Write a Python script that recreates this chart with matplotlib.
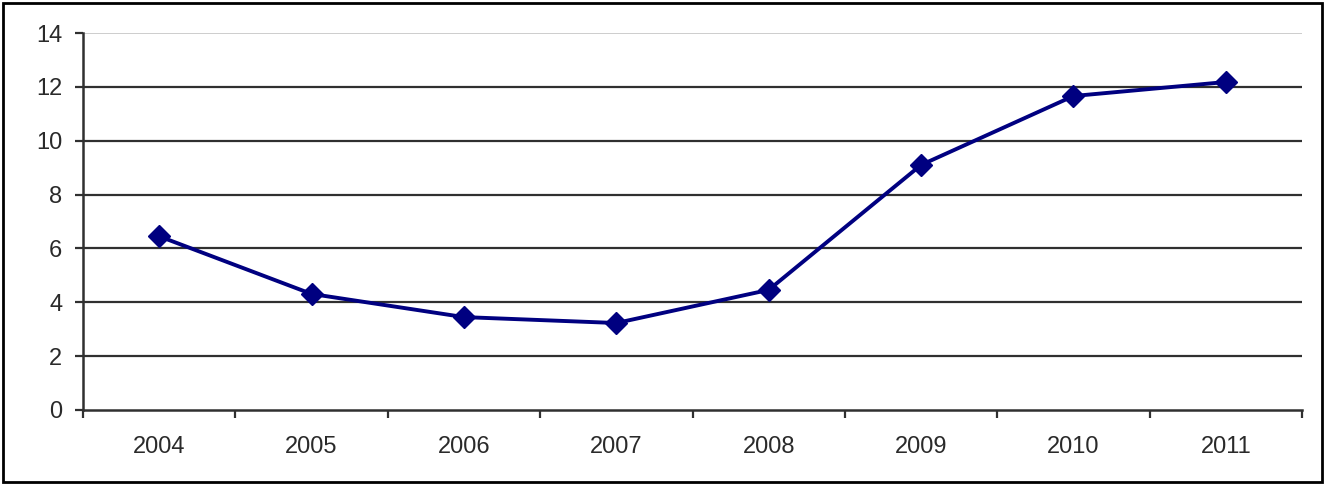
import matplotlib
matplotlib.use("Agg")
import matplotlib.pyplot as plt
from matplotlib.patches import Rectangle
import numpy as np

years = ["2004", "2005", "2006", "2007", "2008", "2009", "2010", "2011"]
values = [6.45, 4.31, 3.45, 3.23, 4.46, 9.1, 11.66, 12.18]
yticks = [0, 2, 4, 6, 8, 10, 12, 14]

plt.rcParams['font.family'] = ['Liberation Sans', 'DejaVu Sans']

fig = plt.figure(figsize=(13.29, 4.84), dpi=100)
fig.patch.set_facecolor("white")
fig.patches.append(Rectangle((3/1329, 2/484), 1319/1329, 479/484, transform=fig.transFigure,
                             fill=False, edgecolor="black", linewidth=2.0))

ax = fig.add_axes([83/1329, 74/484, 1219/1329, 377/484])
x = np.arange(len(years))
ax.set_xlim(-0.5, len(years) - 0.5)
ax.set_ylim(0, 14)

for t in yticks[1:-1]:
    ax.axhline(t, color="#303030", linewidth=1.6, zorder=1)
ax.axhline(14, color="#c0c0c0", linewidth=1.1, zorder=1)

ax.plot(x, values, color="#000080", linewidth=2.8, marker="D", markersize=11,
        markerfacecolor="#000080", markeredgecolor="#000080", zorder=3, clip_on=False)

for s in ["top", "right"]:
    ax.spines[s].set_visible(False)
for s in ["left", "bottom"]:
    ax.spines[s].set_color("#303030")
    ax.spines[s].set_linewidth(1.8)

ax.set_yticks(yticks)
ax.set_yticklabels([str(v) for v in yticks], fontsize=17, color="#2a2a2a")
ax.tick_params(axis="y", length=6, width=1.6, color="#303030", pad=9)

ax.set_xticks(np.arange(-0.5, len(years), 1.0))
ax.set_xticklabels([])
ax.set_xticks(x, minor=True)
ax.set_xticklabels(years, minor=True, fontsize=17, color="#2a2a2a")
ax.tick_params(axis="x", which="major", length=6, width=1.6, color="#303030", direction="out")
ax.tick_params(axis="x", which="minor", length=0, pad=19)

fig.savefig("out.png", dpi=100, facecolor="white")
